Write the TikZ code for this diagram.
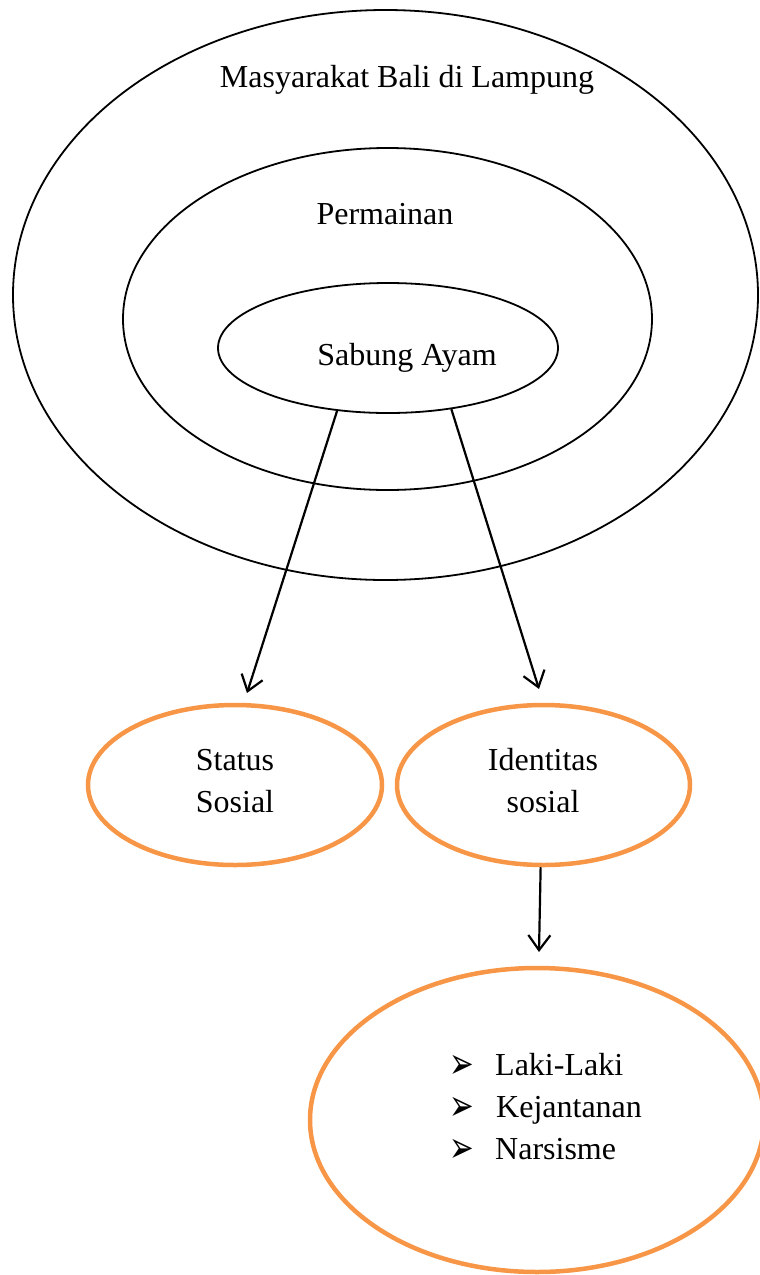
\documentclass[tikz,border=0pt]{standalone}
\usepackage{fontspec}
\setmainfont{Liberation Serif}
\newfontfamily\bulfont{DejaVu Sans}
\usetikzlibrary{shapes.geometric,arrows.meta}
\definecolor{orng}{RGB}{247,150,70}
\newcommand{\arrbul}{\scalebox{0.95}[1.4]{➢}}
\begin{document}
\begin{tikzpicture}[x=1pt,y=-1pt,
  ring/.style={ellipse,draw=black,line width=1.8pt,inner sep=0pt},
  oring/.style={ellipse,draw=orng,line width=4.5pt,inner sep=0pt},
  lbl/.style={font=\fontsize{32}{42}\selectfont,inner sep=0pt,anchor=base},
  bul/.style={font=\bulfont\fontsize{31}{36}\selectfont,inner sep=0pt,anchor=base west},
  arr/.style={line width=2.2pt,-{Straight Barb[length=15pt,width=22pt]}}]
\useasboundingbox (0,0) rectangle (760,1275);
% nested ellipses
\node[ring,minimum width=745pt,minimum height=570pt] (outer) at (385.5,295) {};
\node[ring,minimum width=529pt,minimum height=342pt] (middle) at (387.5,319) {};
\node[ring,minimum width=340pt,minimum height=130pt] (inner) at (388,348) {};
\node[lbl] (tout) at (407,87) {Masyarakat Bali di Lampung};
\node[lbl] (tmid) at (385,224) {Permainan};
\node[lbl] (tin) at (407,365) {Sabung Ayam};
% orange ellipses
\node[oring,minimum width=294pt,minimum height=160pt] (status) at (235,785) {};
\node[oring,minimum width=293pt,minimum height=160pt] (ident) at (543.5,785) {};
\node[oring,minimum width=454pt,minimum height=304pt] (list) at (537,1120) {};
\node[lbl] (ts1) at (235,770) {Status};
\node[lbl] (ts2) at (235,812) {Sosial};
\node[lbl] (ti1) at (543,770) {Identitas};
\node[lbl] (ti2) at (543,812) {sosial};
% bullet list
\node[bul] (b1) at (449,1078) {\arrbul};
\node[bul] (b2) at (449,1120) {\arrbul};
\node[bul] (b3) at (449,1162) {\arrbul};
\node[lbl,anchor=base west] (l1) at (495,1075) {Laki-Laki};
\node[lbl,anchor=base west] (l2) at (496,1117) {Kejantanan};
\node[lbl,anchor=base west] (l3) at (495,1159) {Narsisme};
% arrows
\coordinate (e1) at (247,693);
\coordinate (e2) at (539,689);
\coordinate (e3) at (539,952);
\draw[arr] (inner.231.6) -- (e1);
\draw[arr] (inner.316.4) -- (e2);
\draw[arr] (ident.268.5) -- (e3);
\end{tikzpicture}
\end{document}
